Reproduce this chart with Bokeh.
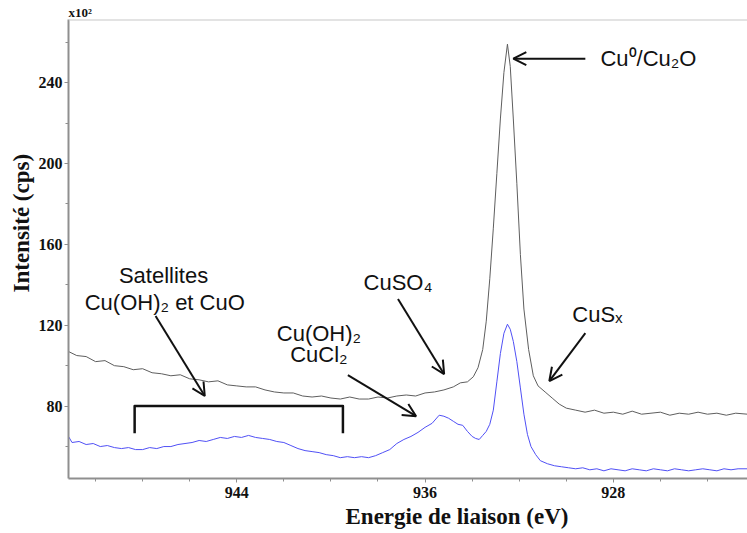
from bokeh.plotting import figure
from bokeh.models import (Range1d, FixedTicker, Label, Arrow, OpenHead, Span, Title)
from bokeh.embed import file_html
from bokeh.resources import INLINE

# ---- data ----
energy_gray = [951.15, 950.8, 950.4, 950.0, 949.6, 949.2, 948.8, 948.4, 948.0, 947.6,
               947.2, 946.8, 946.4, 946.0, 945.6, 945.2, 944.8, 944.4, 944.0, 943.6,
               943.2, 942.8, 942.4, 942.0, 941.6, 941.2, 940.8, 940.4, 940.0, 939.6,
               939.2, 938.8, 938.4, 938.0, 937.6, 937.2, 936.8, 936.4, 936.0, 935.6,
               935.2, 934.8, 934.5, 934.2, 933.95, 933.75, 933.55, 933.4, 933.25, 933.1,
               932.95, 932.8, 932.65, 932.5, 932.38, 932.25, 932.1, 931.95, 931.8, 931.6,
               931.4, 931.2, 930.9, 930.6, 930.3, 930.0, 929.6, 929.2, 928.8, 928.4,
               928.0, 927.6, 927.2, 926.8, 926.4, 926.0, 925.6, 925.2, 924.8, 924.4,
               924.0, 923.6, 923.2, 922.8, 922.3]
intens_gray = [107, 105, 104.5, 102, 102.5, 100, 99.5, 98, 98.5, 96.5,
               96, 95, 95.5, 93.5, 93, 92, 92.5, 90.5, 90, 89.5,
               89.5, 88, 87, 86.5, 86.5, 85, 84.5, 85, 84, 83.5,
               84.5, 83.5, 83.5, 84.5, 84, 85, 85.5, 85, 86.5, 87,
               88, 89.5, 91.5, 92, 94.5, 99, 108, 122, 143, 168,
               195, 222, 245, 259, 248, 222, 190, 155, 128, 108,
               95, 90, 87, 84, 81, 79, 78, 77, 78, 76.5,
               77, 76, 77.5, 76, 76.5, 77, 75.5, 76.5, 76, 77,
               76, 76.5, 75.5, 76.5, 76]

energy_blue = [951.15, 951.0, 950.7, 950.4, 950.1, 949.8, 949.5, 949.2, 948.9, 948.6,
               948.3, 948.0, 947.7, 947.4, 947.1, 946.8, 946.5, 946.2, 945.9, 945.6,
               945.3, 945.0, 944.7, 944.4, 944.1, 943.8, 943.5, 943.2, 942.9, 942.6,
               942.3, 942.0, 941.7, 941.4, 941.1, 940.8, 940.5, 940.2, 939.9, 939.6,
               939.3, 939.0, 938.7, 938.4, 938.1, 937.8, 937.5, 937.2, 936.9, 936.6,
               936.3, 936.0, 935.7, 935.4, 935.2, 935.0, 934.8, 934.6, 934.4, 934.2,
               934.0, 933.85, 933.7, 933.55, 933.4, 933.25, 933.1, 932.95, 932.8, 932.65,
               932.5, 932.38, 932.25, 932.1, 931.95, 931.8, 931.65, 931.5, 931.3, 931.1,
               930.8, 930.5, 930.2, 929.9, 929.6, 929.3, 929.0, 928.7, 928.4, 928.1,
               927.8, 927.5, 927.2, 926.9, 926.6, 926.3, 926.0, 925.7, 925.4, 925.1,
               924.8, 924.5, 924.2, 923.9, 923.6, 923.3, 923.0, 922.7, 922.3]
intens_blue = [65, 62, 62.5, 61, 61.5, 60, 60.5, 59.5, 59, 59.5,
               58.5, 58.5, 59.5, 59, 60, 60, 61, 61.5, 62, 63,
               62.5, 63.5, 64.5, 64, 65, 64.5, 65.5, 64.5, 64, 63.5,
               62.5, 62, 60.5, 59, 58, 57.5, 57, 56, 55.5, 54.5,
               55, 54.5, 55, 54.5, 55.5, 57, 58.5, 61.5, 63.5, 65,
               67, 69.5, 71.5, 75.5, 75, 74, 72.5, 71, 70.5, 67.5,
               65, 64, 63.5, 65.5, 67.5, 71, 78, 92, 106, 116,
               120.5, 118, 112, 102, 89, 76, 66, 60, 56, 53,
               51.5, 50.5, 50, 49.5, 49, 49.5, 48.5, 49, 48, 49,
               48.5, 48, 49, 48.5, 48, 49, 48.5, 48, 49, 48.5,
               48, 48.5, 49, 48.5, 48, 49, 48.5, 49, 49]

x_major = [944, 936, 928]
x_minor = [950, 948, 946, 942, 940, 938, 934, 932, 930, 926, 924]
y_major = [80, 120, 160, 200, 240]
y_minor = [60, 100, 140, 180, 220, 260]

X_LEFT, X_RIGHT = 951.15, 922.3
Y_BOT, Y_TOP = 44.2, 271.2

p = figure(width=747, height=533, output_backend="svg", toolbar_location=None,
           x_range=Range1d(X_LEFT, X_RIGHT), y_range=Range1d(Y_BOT, Y_TOP),
           min_border_left=68, min_border_right=0, min_border_top=19,
           min_border_bottom=55)
p.background_fill_color = "white"
p.border_fill_color = "white"
p.outline_line_color = None
p.grid.visible = False

AX = "#8f8f8f"
for ax in (p.xaxis[0], p.yaxis[0]):
    ax.axis_line_color = AX
    ax.axis_line_width = 2
    ax.major_tick_line_color = AX
    ax.minor_tick_line_color = AX
    ax.major_tick_in = 0
    ax.major_tick_out = 4
    ax.minor_tick_in = 0
    ax.minor_tick_out = 3
    ax.major_label_text_font = "Liberation Serif"
    ax.major_label_text_font_style = "bold"
    ax.major_label_text_font_size = "16px"
    ax.major_label_text_color = "#111111"

p.xaxis[0].ticker = FixedTicker(ticks=x_major, minor_ticks=x_minor)
p.yaxis[0].ticker = FixedTicker(ticks=y_major, minor_ticks=y_minor)
p.xaxis[0].major_label_standoff = 4
p.yaxis[0].major_label_standoff = 2

# top frame line
p.add_layout(Span(location=Y_TOP, dimension="width", line_color="#c8c8c8", line_width=2))

# curves
p.line(energy_gray, intens_gray, line_color="#5e5e5e", line_width=1)
p.line(energy_blue, intens_blue, line_color="#5050f5", line_width=1)

# satellite bracket
p.line([948.34, 948.34, 939.49, 939.49], [66.6, 80, 80, 66.6],
       line_color="#111111", line_width=2.5, line_join="round")

TXT = "#111111"
SANS = "Liberation Sans"
FS = "22px"

def lab(x, y, t, align="center", size=FS):
    p.add_layout(Label(x=x, y=y, text=t, text_align=align, text_baseline="middle",
                       text_font=SANS, text_font_size=size, text_color=TXT))

def arrow(x0, y0, x1, y1):
    p.add_layout(Arrow(end=OpenHead(size=13, line_width=2, line_color=TXT),
                       x_start=x0, y_start=y0, x_end=x1, y_end=y1,
                       line_color=TXT, line_width=2))

lab(928.55, 251.8, "Cu⁰/Cu₂O", align="left")
arrow(929.19, 251.8, 932.25, 251.8)

lab(947.11, 144.4, "Satellites")
lab(947.06, 131.0, "Cu(OH)₂ et CuO")
arrow(947.45, 124.6, 945.36, 85.0)

lab(937.15, 140.9, "CuSO₄")
arrow(937.15, 133.0, 935.19, 95.8)

lab(940.51, 116.1, "Cu(OH)₂")
lab(940.51, 105.7, "CuCl₂")
arrow(939.28, 95.3, 936.38, 75.0)

lab(928.68, 125.5, "CuSₓ")
arrow(929.19, 116.1, 930.72, 92.4)

# axis titles and multiplier (as side-panel titles)
p.add_layout(Title(text="x10²", align="left", offset=0, standoff=0,
                   text_font="Liberation Serif", text_font_style="bold",
                   text_font_size="13px", text_color=TXT), "above")
p.add_layout(Title(text="Intensité (cps)", align="left", offset=186, standoff=4,
                   text_font="Liberation Serif", text_font_style="bold",
                   text_font_size="23px", text_color=TXT), "left")
p.add_layout(Title(text="Energie de liaison (eV)", align="left", offset=277, standoff=2,
                   text_font="Liberation Serif", text_font_style="bold",
                   text_font_size="23px", text_color=TXT), "below")

open("out.html", "w").write(file_html(p, INLINE))
